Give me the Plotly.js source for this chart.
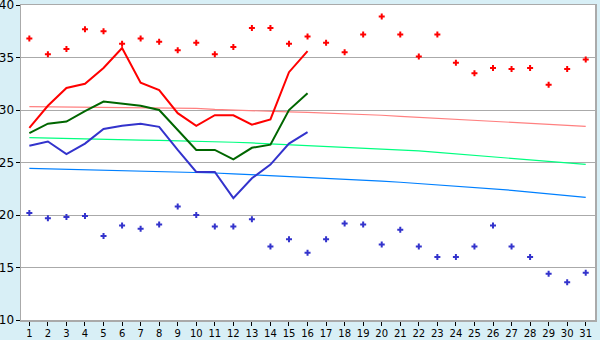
<!DOCTYPE html>
<html><head><meta charset="utf-8">
<script src="https://cdn.plot.ly/plotly-3.0.1.min.js"></script>
<style>html,body{margin:0;padding:0;background:#d8eff6;}#c{width:600px;height:340px;}</style>
</head><body><div id="c"></div>
<script>
const days = Array.from({length:31},(_,i)=>i+1);
const obsDays = days.slice(0,16);
const maxTemp = [28.3,30.4,32.1,32.5,34.0,35.9,32.6,31.9,29.7,28.5,29.5,29.5,28.6,29.1,33.6,35.6];
const avgTemp = [27.8,28.7,28.9,29.9,30.8,30.6,30.4,30.0,28.1,26.2,26.2,25.3,26.4,26.7,30.0,31.6];
const minTemp = [26.6,27.0,25.8,26.8,28.2,28.5,28.7,28.4,26.2,24.1,24.1,21.6,23.5,24.8,26.8,27.9];
const recMax = [36.8,35.3,35.8,37.7,37.5,36.3,36.8,36.5,35.7,36.4,35.3,36.0,37.8,37.8,36.3,37.0,
                36.4,35.5,37.2,38.9,37.2,35.1,37.2,34.5,33.5,34.0,33.9,34.0,32.4,33.9,34.8];
const recMin = [20.2,19.7,19.8,19.9,18.0,19.0,18.7,19.1,20.8,20.0,18.9,18.9,19.6,17.0,17.7,16.4,
                17.7,19.2,19.1,17.2,18.6,17.0,16.0,16.0,17.0,19.0,17.0,16.0,14.4,13.6,14.5];
const normMax = [30.32,30.31,30.3,30.29,30.28,30.26,30.24,30.22,30.2,30.16,30.05,29.98,29.92,29.87,29.82,29.77,
                 29.72,29.66,29.58,29.5,29.4,29.3,29.22,29.14,29.05,28.96,28.86,28.76,28.65,28.55,28.44];
const normAvg = [27.37,27.32,27.27,27.24,27.21,27.18,27.14,27.11,27.08,27.05,27.0,26.93,26.86,26.78,26.7,26.62,
                 26.54,26.46,26.37,26.28,26.2,26.1,25.96,25.82,25.68,25.55,25.42,25.28,25.12,24.97,24.83];
const normMin = [24.44,24.4,24.36,24.32,24.28,24.24,24.2,24.16,24.12,24.07,24.0,23.92,23.84,23.76,23.67,23.58,
                 23.49,23.41,23.32,23.22,23.12,23.0,22.88,22.76,22.63,22.49,22.35,22.18,22.0,21.84,21.68];
const yTicks = [10,15,20,25,30,35,40];

const traces = [
  {x:days,y:normMax,mode:'lines',line:{color:'#ff8080',width:1.2}},
  {x:days,y:normAvg,mode:'lines',line:{color:'#00ff80',width:1.2}},
  {x:days,y:normMin,mode:'lines',line:{color:'#0080ff',width:1.2}},
  {x:obsDays,y:minTemp,mode:'lines',line:{color:'#3333cc',width:2}},
  {x:obsDays,y:avgTemp,mode:'lines',line:{color:'#006600',width:2}},
  {x:obsDays,y:maxTemp,mode:'lines',line:{color:'#ff0000',width:2}},
  {x:days,y:recMax,mode:'markers',marker:{symbol:'cross',size:5,color:'#ff0000'}},
  {x:days,y:recMin,mode:'markers',marker:{symbol:'cross',size:5,color:'#3333cc'}}
];
const layout = {
  width:600,height:340,showlegend:false,
  margin:{l:21,r:5,t:5,b:20},
  paper_bgcolor:'#d8eff6',plot_bgcolor:'#ffffff',
  font:{family:'DejaVu Sans',size:11,color:'#000'},
  xaxis:{range:[0.55,31.5],tickmode:'array',tickvals:days,ticktext:days.map(String),
         tickfont:{size:10},ticklabelstandoff:-1,
         ticks:'outside',ticklen:4,tickcolor:'#000',showgrid:false,zeroline:false,
         showline:true,linecolor:'#aaaaaa',linewidth:1.5,mirror:true,fixedrange:true},
  yaxis:{range:[10,40],tickmode:'array',tickvals:yTicks,ticktext:yTicks.map(String),
         tickfont:{size:12},ticklabeloverflow:'allow',ticklabelstandoff:-1,
         ticks:'outside',ticklen:4,tickcolor:'#000',
         showgrid:true,gridcolor:'#aaaaaa',gridwidth:1,zeroline:false,
         showline:true,linecolor:'#aaaaaa',linewidth:1.5,mirror:true,fixedrange:true}
};
Plotly.newPlot('c',traces,layout,{staticPlot:true});
</script></body></html>
